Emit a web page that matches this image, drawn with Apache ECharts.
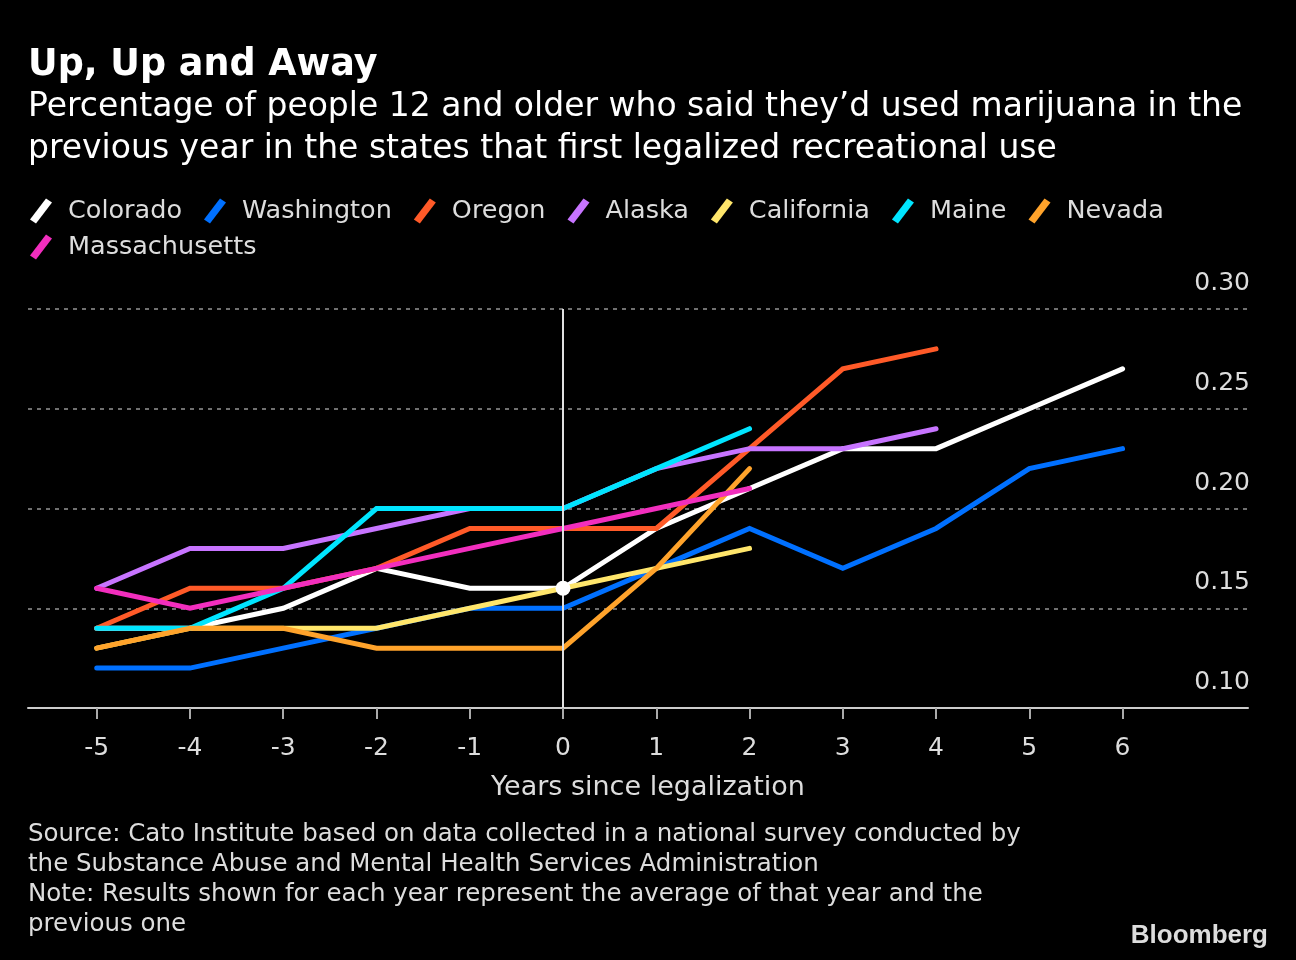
<!DOCTYPE html>
<html>
<head>
<meta charset="utf-8">
<script src="https://cdn.jsdelivr.net/npm/echarts@6/dist/echarts.min.js"></script>
<style>
html,body{margin:0;padding:0;background:#000;}
#chart{width:1296px;height:960px;}
</style>
</head>
<body>
<div id="chart"></div>
<script>
const years = [-5,-4,-3,-2,-1,0,1,2,3,4,5,6];
const yTicks = [0.10,0.15,0.20,0.25,0.30];
const colorado = [0.14,0.14,0.15,0.17,0.16,0.16,0.19,0.21,0.23,0.23,0.25,0.27];
const washington = [0.12,0.12,0.13,0.14,0.15,0.15,0.17,0.19,0.17,0.19,0.22,0.23];
const oregon = [0.14,0.16,0.16,0.17,0.19,0.19,0.19,0.23,0.27,0.28];
const alaska = [0.16,0.18,0.18,0.19,0.20,0.20,0.22,0.23,0.23,0.24];
const california = [0.13,0.14,0.14,0.14,0.15,0.16,0.17,0.18];
const maine = [0.14,0.14,0.16,0.20,0.20,0.20,0.22,0.24];
const nevada = [0.13,0.14,0.14,0.13,0.13,0.13,0.17,0.22];
const massachusetts = [0.16,0.15,0.16,0.17,0.18,0.19,0.20,0.21];

const names = ['Colorado','Washington','Oregon','Alaska','California','Maine','Nevada','Massachusetts'];
const values = [colorado,washington,oregon,alaska,california,maine,nevada,massachusetts];
const colors = ['#ffffff','#0070ff','#ff5a28','#c774ff','#ffe66b','#00e5ff','#ffa32b','#f22ebe'];

const FONT = '"DejaVu Sans", sans-serif';
const icon = 'path://M0,21 L16,0 L22,4 L6,25 Z';

const chart = echarts.init(document.getElementById('chart'));

const series = names.map((n, i) => {
  const s = {
    name: n,
    type: 'line',
    data: values[i].map((v, j) => [years[j], v]),
    showSymbol: false,
    symbol: 'none',
    lineStyle: {width: 5, color: colors[i], cap: 'round', join: 'miter'},
    itemStyle: {color: colors[i]},
    emphasis: {disabled: true},
    animation: false
  };
  if (i === 0) {
    s.markLine = {
      silent: true,
      symbol: 'none',
      label: {show: false},
      lineStyle: {color: '#e0e0e0', width: 2, type: 'solid'},
      data: [{xAxis: 0}]
    };
  }
  return s;
});
series.push({
  name: 'dot',
  type: 'scatter',
  data: [[years[5], colorado[5]]],
  symbolSize: 15,
  itemStyle: {color: '#ffffff', opacity: 1},
  z: 10,
  animation: false
});

const legendBase = {icon: icon, itemWidth: 22, itemHeight: 25, itemGap: 22, selectedMode: false, padding: 0,
  textStyle: {color: '#dddddd', fontSize: 25.5, fontFamily: FONT, padding: [0,0,0,11]}};

chart.setOption({
  backgroundColor: '#000000',
  animation: false,
  title: [
    {text: 'Up, Up and Away', left: 28, top: 47, padding: 0,
     textStyle: {color: '#ffffff', fontSize: 36.5, fontWeight: 'bold', fontFamily: FONT}},
    {text: 'Percentage of people 12 and older who said they\u2019d used marijuana in the\nprevious year in the states that first legalized recreational use',
     left: 28, top: 86, padding: 0,
     textStyle: {color: '#ffffff', fontSize: 33, fontWeight: 'normal', lineHeight: 42, fontFamily: FONT}},
    {text: 'Source: Cato Institute based on data collected in a national survey conducted by\nthe Substance Abuse and Mental Health Services Administration\nNote: Results shown for each year represent the average of that year and the\nprevious one',
     left: 28, top: 820, padding: 0,
     textStyle: {color: '#dddddd', fontSize: 24.5, fontWeight: 'normal', lineHeight: 30, fontFamily: FONT}},
    {text: 'Bloomberg', right: 28, top: 923, padding: 0,
     textStyle: {color: '#dddddd', fontSize: 26, fontWeight: 'bold', fontFamily: '"Liberation Sans", Arial, sans-serif'}}
  ],
  legend: [
    Object.assign({}, legendBase, {data: names.slice(0, 7), left: 30, top: 198}),
    Object.assign({}, legendBase, {data: names.slice(7), left: 30, top: 234})
  ],
  grid: {left: 28, right: 48, top: 309, bottom: 252, containLabel: false},
  xAxis: {
    type: 'value',
    min: -5.737, max: 7.345,
    name: 'Years since legalization',
    nameLocation: 'middle',
    nameGap: 66,
    nameTextStyle: {color: '#dddddd', fontSize: 27, fontFamily: FONT, padding: [0,0,0,20]},
    axisLine: {show: true, lineStyle: {color: '#cccccc', width: 2}},
    axisTick: {show: true, customValues: years, length: 11, lineStyle: {color: '#aaaaaa', width: 2}},
    axisLabel: {customValues: years, color: '#dddddd', fontSize: 25, fontFamily: FONT, margin: 28},
    splitLine: {show: false}
  },
  yAxis: {
    type: 'value',
    position: 'right',
    min: yTicks[0], max: yTicks[yTicks.length - 1], interval: 0.05,
    axisLine: {show: false},
    axisTick: {show: false},
    axisLabel: {inside: true, margin: -2, color: '#dddddd', fontSize: 25, fontFamily: FONT,
      verticalAlign: 'bottom', padding: [0,0,13,0],
      formatter: v => v.toFixed(2)},
    splitLine: {show: true, lineStyle: {color: '#707070', width: 2, type: [4,5]}}
  },
  series: series
});
</script>
</body>
</html>
